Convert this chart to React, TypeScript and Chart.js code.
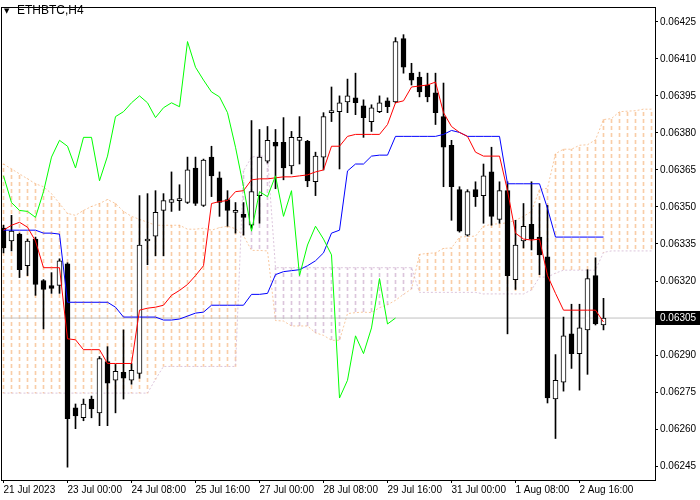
import React, { useEffect, useRef } from "react";
import { Chart, registerables } from "chart.js";

Chart.register(...registerables);

// ---------------- data ----------------
const timeLabels = [
  "21 Jul 2023", "23 Jul 00:00", "24 Jul 08:00", "25 Jul 16:00", "27 Jul 00:00",
  "28 Jul 08:00", "29 Jul 16:00", "31 Jul 00:00", "1 Aug 08:00", "2 Aug 16:00",
];
const timeLabelBars = [0, 8, 16, 24, 32, 40, 48, 56, 64, 72];

const priceTicks = [
  0.06245, 0.0626, 0.06275, 0.0629, 0.06305, 0.0632, 0.06335,
  0.0635, 0.06365, 0.0638, 0.06395, 0.0641, 0.06425,
];

const open = [
  0.063414, 0.063362, 0.06339, 0.063262, 0.06337, 0.063202, 0.063182, 0.063182, 0.06327, 0.062686,
  0.062646, 0.062722, 0.062666, 0.062874, 0.062798, 0.06283, 0.062798, 0.062826, 0.063362, 0.063382,
  0.063486, 0.063518, 0.063526, 0.063518, 0.063658, 0.063506, 0.063702, 0.063618, 0.06353, 0.063478,
  0.06347, 0.063426, 0.063546, 0.063686, 0.063762, 0.063762, 0.063666, 0.06377, 0.063766, 0.063602,
  0.063702, 0.063882, 0.063886, 0.063926, 0.063942, 0.06391, 0.063846, 0.063886, 0.06393, 0.063926,
  0.064182, 0.064042, 0.064026, 0.063994, 0.063962, 0.063866, 0.06375, 0.06357, 0.063386, 0.06357,
  0.063546, 0.063642, 0.06345, 0.063566, 0.063206, 0.063362, 0.06343, 0.063378, 0.063298, 0.062722,
  0.06279, 0.062986, 0.062906, 0.063002, 0.063222, 0.063022,
];
const high = [
  0.063426, 0.063466, 0.063394, 0.06337, 0.063378, 0.063206, 0.063234, 0.06329, 0.063274, 0.062702,
  0.062722, 0.062734, 0.062894, 0.062934, 0.062862, 0.063002, 0.062866, 0.063546, 0.063554, 0.063566,
  0.063554, 0.063642, 0.06359, 0.063702, 0.063702, 0.063694, 0.063746, 0.063642, 0.063566, 0.063518,
  0.063518, 0.06385, 0.063814, 0.063826, 0.063814, 0.063862, 0.063806, 0.063866, 0.06377, 0.063722,
  0.063882, 0.063986, 0.06395, 0.064018, 0.064042, 0.063934, 0.063914, 0.06395, 0.063942, 0.064186,
  0.064198, 0.064082, 0.064046, 0.064042, 0.064042, 0.064002, 0.06377, 0.063582, 0.06357, 0.063602,
  0.063674, 0.063742, 0.063602, 0.063602, 0.063446, 0.063514, 0.063602, 0.063514, 0.063506, 0.062902,
  0.063054, 0.063106, 0.063106, 0.063246, 0.063294, 0.06313,
];
const low = [
  0.063314, 0.063322, 0.063214, 0.063222, 0.063142, 0.063006, 0.06315, 0.06315, 0.062446, 0.062602,
  0.062634, 0.062646, 0.062614, 0.062614, 0.062666, 0.062722, 0.062782, 0.062806, 0.063266, 0.063302,
  0.063302, 0.063482, 0.063486, 0.063514, 0.063506, 0.063502, 0.063542, 0.063462, 0.063422, 0.063394,
  0.063386, 0.063414, 0.063434, 0.063678, 0.063574, 0.06361, 0.063634, 0.063674, 0.063582, 0.063546,
  0.06365, 0.063846, 0.063654, 0.063882, 0.063874, 0.063782, 0.063806, 0.063882, 0.063882, 0.063922,
  0.064042, 0.063994, 0.063946, 0.063926, 0.063834, 0.063582, 0.063446, 0.063398, 0.063382, 0.063502,
  0.063434, 0.063426, 0.063434, 0.062986, 0.063166, 0.063334, 0.063326, 0.063226, 0.062706, 0.062562,
  0.062754, 0.062846, 0.062758, 0.062822, 0.063022, 0.063002,
];
const close = [
  0.063334, 0.063402, 0.063246, 0.063362, 0.063186, 0.063166, 0.06317, 0.063282, 0.062642, 0.062654,
  0.062702, 0.062682, 0.062886, 0.062786, 0.062834, 0.062806, 0.062838, 0.063346, 0.06337, 0.063478,
  0.063526, 0.06353, 0.06353, 0.06365, 0.063514, 0.06369, 0.063626, 0.063518, 0.063486, 0.063482,
  0.063458, 0.063562, 0.063702, 0.06377, 0.063746, 0.063658, 0.063782, 0.063782, 0.063606, 0.063706,
  0.063866, 0.063886, 0.063922, 0.06395, 0.063922, 0.063862, 0.063902, 0.063922, 0.063906, 0.06417,
  0.064066, 0.064014, 0.063966, 0.063946, 0.063882, 0.063742, 0.063582, 0.063402, 0.063562, 0.063542,
  0.063626, 0.063462, 0.063566, 0.063222, 0.063346, 0.063422, 0.06337, 0.063306, 0.062726, 0.062798,
  0.062978, 0.062906, 0.06301, 0.06321, 0.063026, 0.06305,
];

const tenkan = [
  0.063406, 0.063426, 0.063438, 0.063418, 0.063362, 0.063254, 0.063254, 0.063254, 0.062966, 0.062962,
  0.062922, 0.062922, 0.062922, 0.062866, 0.062866, 0.062866, 0.062866, 0.063082, 0.06309, 0.063094,
  0.063102, 0.063142, 0.063162, 0.063186, 0.063222, 0.063262, 0.063514, 0.063522, 0.063526, 0.063562,
  0.063566, 0.06361, 0.063614, 0.063614, 0.063618, 0.063622, 0.063622, 0.063626, 0.06363, 0.063642,
  0.06365, 0.063746, 0.063746, 0.063786, 0.063794, 0.063794, 0.063794, 0.063794, 0.063834, 0.063922,
  0.06393, 0.063986, 0.06399, 0.063994, 0.064006, 0.063882, 0.063826, 0.063802, 0.063786, 0.063722,
  0.063706, 0.063706, 0.063706, 0.063566, 0.063394, 0.06337, 0.063366, 0.06337, 0.063222, 0.06315,
  0.063082, 0.063082, 0.063082, 0.063082, 0.063082, 0.063034,
];
const kijun = [
  0.063406, 0.063406, 0.063406, 0.063406, 0.063406, 0.063394, 0.063394, 0.06339, 0.063114, 0.063114,
  0.063114, 0.063114, 0.063114, 0.063114, 0.063094, 0.063054, 0.063054, 0.063054, 0.063054, 0.063054,
  0.063042, 0.063042, 0.063046, 0.063058, 0.06307, 0.063074, 0.063102, 0.063102, 0.063102, 0.063102,
  0.063102, 0.063146, 0.063146, 0.06315, 0.063226, 0.063238, 0.063242, 0.063246, 0.063262, 0.063282,
  0.063314, 0.063394, 0.063406, 0.063646, 0.063674, 0.063674, 0.063706, 0.06371, 0.06371, 0.063786,
  0.063786, 0.063786, 0.063786, 0.063786, 0.063786, 0.063794, 0.06381, 0.063802, 0.063786, 0.063786,
  0.063786, 0.063786, 0.063786, 0.063594, 0.063594, 0.063594, 0.063594, 0.063594, 0.063494, 0.063378,
  0.063378, 0.063378, 0.063378, 0.063378, 0.063378, 0.063378,
];
const spanA = [
  0.063674, 0.063654, 0.063634, 0.063614, 0.063594, 0.063582, 0.063554, 0.063514, 0.063474, 0.063466,
  0.063486, 0.063502, 0.063514, 0.06353, 0.063514, 0.063482, 0.063462, 0.06345, 0.063438, 0.063426,
  0.063426, 0.063426, 0.063426, 0.06341, 0.06341, 0.063414, 0.063406, 0.063416, 0.063422, 0.063412,
  0.063384, 0.063324, 0.063324, 0.063322, 0.06304, 0.063038, 0.063018, 0.063018, 0.063018, 0.06299,
  0.06298, 0.06296, 0.06296, 0.063068, 0.063072, 0.063074, 0.063072, 0.063092, 0.063104, 0.063122,
  0.063146, 0.063168, 0.063308, 0.063312, 0.063314, 0.063332, 0.063334, 0.063378, 0.06338, 0.063382,
  0.063422, 0.06343, 0.063432, 0.063436, 0.063446, 0.063462, 0.063482, 0.06357, 0.063576, 0.063716,
  0.063734, 0.063734, 0.06375, 0.063752, 0.063772, 0.063854, 0.063858, 0.063886, 0.063888, 0.06389,
  0.063896, 0.063896,
];
const spanB = [
  0.062746, 0.062746, 0.062746, 0.062746, 0.062746, 0.062746, 0.062746, 0.062746, 0.062746, 0.062746,
  0.062746, 0.062746, 0.062746, 0.062746, 0.062746, 0.062746, 0.062746, 0.062746, 0.062746, 0.062802,
  0.062854, 0.062854, 0.062854, 0.062854, 0.062854, 0.062854, 0.062854, 0.062854, 0.062854, 0.062854,
  0.063646, 0.063702, 0.063706, 0.063706, 0.063254, 0.063254, 0.063254, 0.063254, 0.063254, 0.063254,
  0.063254, 0.063254, 0.063254, 0.063254, 0.063254, 0.063254, 0.063254, 0.063254, 0.063254, 0.063254,
  0.063254, 0.063254, 0.063154, 0.063154, 0.063154, 0.063154, 0.063154, 0.063154, 0.063154, 0.063154,
  0.063148, 0.063148, 0.063148, 0.063148, 0.063148, 0.063148, 0.063164, 0.063216, 0.063216, 0.063232,
  0.063244, 0.063244, 0.063244, 0.063244, 0.063244, 0.063316, 0.063322, 0.063322, 0.063322, 0.063322,
  0.063322, 0.063322,
];
const chikouShift = 26;
const lastPrice = 0.06305;

// ---------------- layout / style ----------------
const X_MIN = -0.1875;
const X_MAX = 81.4375;
const Y_MIN = 0.062394;
const Y_MAX = 0.064306;
const FONT = '"Liberation Sans", Arial, sans-serif';

function dashPattern(color: string) {
  const c = document.createElement("canvas");
  c.width = 1;
  c.height = 7;
  const g = c.getContext("2d")!;
  g.fillStyle = color;
  g.fillRect(0, 0, 1, 4);
  return g.createPattern(c, "repeat")!;
}

const decorPlugin = {
  id: "decor",
  afterDraw(chart: any) {
    const { ctx, chartArea: a, scales } = chart;
    ctx.save();
    ctx.fillStyle = "#000";
    ctx.fillRect(a.left - 1, a.top - 1, a.right - a.left + 2, 1);
    ctx.fillRect(a.left - 1, a.top - 1, 1, a.bottom - a.top + 2);
    ctx.textBaseline = "middle";
    ctx.textAlign = "left";
    ctx.font = `7px "DejaVu Sans"`;
    ctx.fillText("▼", 4, 11);
    ctx.font = `12px ${FONT}`;
    ctx.fillText("ETHBTC,H4", 17, 11);
    const py = Math.round(scales.y.getPixelForValue(lastPrice));
    ctx.fillRect(a.right + 1, py - 7, chart.width - a.right - 1, 14);
    ctx.fillStyle = "#fff";
    ctx.font = `10px ${FONT}`;
    ctx.fillText(lastPrice.toFixed(5), a.right + 5, py + 0.5);
    ctx.restore();
  },
};

export default function App() {
  const ref = useRef<HTMLCanvasElement>(null);
  useEffect(() => {
    document.body.style.margin = "0";
    const canvas = ref.current!;
    const sandy = dashPattern("rgba(244,164,96,0.55)");
    const thistle = dashPattern("rgba(216,191,216,0.9)");
    const idx = (arr: number[]) => arr.map((v, i) => ({ x: i, y: v }));

    const chart = new Chart(canvas, {
      type: "bar",
      data: {
        datasets: [
          {
            type: "bar",
            data: spanA.map((a, i) => ({ x: i, y: [spanB[i], a] })) as any,
            backgroundColor: spanA.map((a, i) => (a >= spanB[i] ? sandy : thistle)) as any,
            borderWidth: 0,
            barThickness: 1,
            maxBarThickness: 1,
            grouped: false,
            order: 10,
          },
          {
            type: "line",
            data: idx(spanA),
            borderColor: "rgba(244,164,96,0.6)",
            borderWidth: 1,
            borderDash: [2, 2],
            pointRadius: 0,
            tension: 0,
            order: 9,
          },
          {
            type: "line",
            data: idx(spanB),
            borderColor: "rgba(216,191,216,0.9)",
            borderWidth: 1,
            borderDash: [2, 2],
            pointRadius: 0,
            tension: 0,
            order: 9,
          },
          {
            type: "line",
            data: [
              { x: X_MIN, y: lastPrice },
              { x: X_MAX, y: lastPrice },
            ],
            borderColor: "#c0c0c0",
            borderWidth: 1,
            pointRadius: 0,
            order: 8,
          },
          {
            type: "bar",
            data: high.map((h, i) => ({ x: i, y: [low[i], h] })) as any,
            backgroundColor: "#000",
            borderWidth: 0,
            barThickness: 1,
            maxBarThickness: 1,
            grouped: false,
            order: 6,
          },
          {
            type: "bar",
            data: open.map((o, i) => ({ x: i, y: [o, close[i]] })) as any,
            backgroundColor: open.map((o, i) => (close[i] >= o ? "#fff" : "#000")),
            borderColor: "#000",
            borderWidth: 1,
            borderSkipped: false,
            barThickness: 5,
            maxBarThickness: 5,
            minBarLength: 2,
            grouped: false,
            order: 5,
          },
          {
            type: "line",
            data: idx(kijun),
            borderColor: "#0000ff",
            borderWidth: 1,
            pointRadius: 0,
            tension: 0,
            order: 3,
          },
          {
            type: "line",
            data: idx(tenkan),
            borderColor: "#ff0000",
            borderWidth: 1,
            pointRadius: 0,
            tension: 0,
            order: 2,
          },
          {
            type: "line",
            data: close.slice(chikouShift).map((v, i) => ({ x: i, y: v })),
            borderColor: "#00ff00",
            borderWidth: 1,
            pointRadius: 0,
            tension: 0,
            order: 1,
          },
        ] as any,
      },
      options: {
        animation: false,
        responsive: false,
        events: [],
        layout: { padding: { left: 2, top: 2, right: 0, bottom: 0 } },
        plugins: { legend: { display: false }, tooltip: { enabled: false }, title: { display: false } },
        scales: {
          x: {
            type: "linear",
            position: "bottom",
            min: X_MIN,
            max: X_MAX,
            offset: false,
            afterBuildTicks: (s: any) => {
              s.ticks = timeLabelBars.map((v) => ({ value: v }));
            },
            afterFit: (s: any) => {
              s.height = 20;
            },
            ticks: {
              autoSkip: false,
              maxRotation: 0,
              minRotation: 0,
              align: "start",
              padding: 1,
              color: "#000",
              font: { family: FONT, size: 10 },
              callback: (_v: any, i: number) => timeLabels[i],
            },
            grid: { drawOnChartArea: false, drawTicks: true, tickLength: 3, color: "#000", offset: false },
            border: { display: true, color: "#000", width: 1 },
          },
          y: {
            type: "linear",
            position: "right",
            min: Y_MIN,
            max: Y_MAX,
            afterBuildTicks: (s: any) => {
              s.ticks = priceTicks.map((v) => ({ value: v }));
            },
            afterFit: (s: any) => {
              s.width = 45;
            },
            ticks: {
              autoSkip: false,
              padding: 2,
              color: "#000",
              font: { family: FONT, size: 10 },
              callback: (v: any) => Number(v).toFixed(5),
            },
            grid: { drawOnChartArea: false, drawTicks: true, tickLength: 3, color: "#000" },
            border: { display: true, color: "#000", width: 1 },
          },
        },
      } as any,
      plugins: [decorPlugin],
    });
    return () => chart.destroy();
  }, []);
  return (
    <div style={{ width: 700, height: 500 }}>
      <canvas ref={ref} width={700} height={500} style={{ display: "block" }} />
    </div>
  );
}
